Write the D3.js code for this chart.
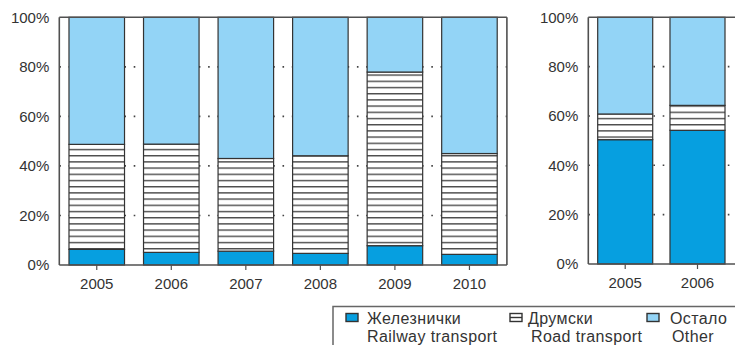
<!DOCTYPE html>
<html>
<head>
<meta charset="utf-8">
<script src="https://cdn.jsdelivr.net/npm/d3@7"></script>
<style>
  html, body { margin: 0; padding: 0; background: #fff; }
  svg { display: block; }
  text { font-family: "Liberation Sans", Arial, Helvetica, sans-serif; fill: #333; }
</style>
</head>
<body>
<svg id="chart" width="735" height="345"></svg>
<script>
// ---- data ----
const years = ["2005", "2006", "2007", "2008", "2009", "2010"];
const rail  = [6.3, 5.1, 5.6, 4.7, 7.8, 4.3];
const road  = [42.4, 43.7, 37.4, 39.4, 70.1, 40.7];
const other = [51.3, 51.2, 57.0, 55.9, 22.1, 55.0];

const years2 = ["2005", "2006"];
const rail2  = [50.4, 54.2];
const road2  = [10.4, 10.1];
const other2 = [39.2, 35.7];

const yTicks = [0, 20, 40, 60, 80, 100];
const gridTicks = [20, 40, 60, 80];
const seriesKeys = ["rail", "road", "other"];
const legendCyr = ["Железнички", "Друмски", "Остало"];
const legendEng = ["Railway transport", "Road transport", "Other"];

// ---- styles ----
const colors = { rail: "#069fe0", road: "url(#hatch)", other: "#93d4f6" };
const frameColor = "#505050";

const svg = d3.select("#chart");
const defs = svg.append("defs");
const pat = defs.append("pattern")
  .attr("id", "hatch").attr("patternUnits", "userSpaceOnUse")
  .attr("width", 10).attr("height", 6.2);
pat.append("rect").attr("width", 10).attr("height", 6.2).attr("fill", "#fff");
pat.append("rect").attr("y", 0).attr("width", 10).attr("height", 1.4).attr("fill", "#4a4a4a");

function panel(cfg) {
  const rows = cfg.cats.map((c, i) => ({ cat: c, rail: cfg.rail[i], road: cfg.road[i], other: cfg.other[i] }));
  const stack = d3.stack().keys(seriesKeys)(rows);
  const x = d3.scaleBand().domain(cfg.cats).range([cfg.x0, cfg.x1])
    .paddingInner(cfg.pIn).paddingOuter(cfg.pOut);
  const y = d3.scaleLinear().domain([0, 100]).range([cfg.yb, cfg.yt]);
  const g = svg.append("g");

  // dotted grid lines behind bars
  g.selectAll("line.grid").data(gridTicks).join("line")
    .attr("x1", cfg.x0).attr("x2", cfg.frameRight)
    .attr("y1", d => y(d)).attr("y2", d => y(d))
    .attr("stroke", "#444").attr("stroke-width", 1.6)
    .attr("stroke-dasharray", "1.6,7.7");

  // bars
  stack.forEach(s => {
    g.append("g").selectAll("rect").data(s).join("rect")
      .attr("x", d => x(d.data.cat))
      .attr("width", x.bandwidth())
      .attr("y", d => y(d[1]))
      .attr("height", d => y(d[0]) - y(d[1]))
      .attr("fill", colors[s.key])
      .attr("stroke", "#333").attr("stroke-width", 1.2);
  });

  // frame
  g.append("line").attr("x1", cfg.x0).attr("x2", cfg.x0).attr("y1", cfg.yt).attr("y2", cfg.yb)
    .attr("stroke", frameColor).attr("stroke-width", 1.6);
  g.append("line").attr("x1", cfg.x0).attr("x2", cfg.frameRight).attr("y1", cfg.yt).attr("y2", cfg.yt)
    .attr("stroke", frameColor).attr("stroke-width", 1.6);
  g.append("line").attr("x1", cfg.x0).attr("x2", cfg.frameRight).attr("y1", cfg.yb).attr("y2", cfg.yb)
    .attr("stroke", frameColor).attr("stroke-width", 1.6);
  if (cfg.closeRight) {
    g.append("line").attr("x1", cfg.frameRight).attr("x2", cfg.frameRight).attr("y1", cfg.yt).attr("y2", cfg.yb)
      .attr("stroke", frameColor).attr("stroke-width", 1.6);
  }

  // y axis labels
  const yAxis = d3.axisLeft(y).tickValues(yTicks).tickFormat(d => d + "%").tickSize(0).tickPadding(10);
  const ya = g.append("g").attr("transform", `translate(${cfg.x0},0)`).call(yAxis);
  ya.select(".domain").remove();
  ya.selectAll("text").attr("font-size", 15).attr("fill", "#333")
    .style("font-family", "'Liberation Sans', Arial, sans-serif");

  // x axis
  const xAxis = d3.axisBottom(x).tickSize(5).tickPadding(8);
  const xa = g.append("g").attr("transform", `translate(0,${cfg.yb})`).call(xAxis);
  xa.select(".domain").remove();
  xa.selectAll("line").attr("stroke", frameColor).attr("stroke-width", 1.2);
  xa.selectAll("text").attr("font-size", 15).attr("fill", "#333")
    .style("font-family", "'Liberation Sans', Arial, sans-serif");
}

panel({ cats: years, rail, road, other, x0: 59.3, x1: 506.9, frameRight: 506.9,
  pIn: 0.255, pOut: 0.13, yt: 17.3, yb: 265, closeRight: true });
panel({ cats: years2, rail: rail2, road: road2, other: other2, x0: 588.3, x1: 734.4, frameRight: 740,
  pIn: 0.239, pOut: 0.13, yt: 17.3, yb: 264, closeRight: false });

// ---- legend ----
const lg = svg.append("g");
lg.append("rect").attr("x", 333).attr("y", 306.5).attr("width", 420).attr("height", 60)
  .attr("fill", "#fff").attr("stroke", "#666").attr("stroke-width", 1.5);
const lx = [346, 510, 647];
const tx = [367, 528, 670];
const tx2 = [367, 531, 672];
seriesKeys.forEach((k, i) => {
  if (k === "road") {
    lg.append("rect").attr("x", lx[i]).attr("y", 313.5).attr("width", 12).attr("height", 8)
      .attr("fill", "#fff").attr("stroke", "#333").attr("stroke-width", 1.4);
    lg.append("line").attr("x1", lx[i]).attr("x2", lx[i] + 12).attr("y1", 317.5).attr("y2", 317.5)
      .attr("stroke", "#333").attr("stroke-width", 1.4);
  } else {
    lg.append("rect").attr("x", lx[i]).attr("y", 313.5).attr("width", 12).attr("height", 8)
      .attr("fill", colors[k]).attr("stroke", "#333").attr("stroke-width", 1.4);
  }
  lg.append("text").attr("x", tx[i]).attr("y", 323.5).attr("font-size", 16)
    .attr("letter-spacing", "0.4px").text(legendCyr[i]);
  lg.append("text").attr("x", tx2[i]).attr("y", 341.5).attr("font-size", 16)
    .attr("letter-spacing", "0.4px").text(legendEng[i]);
});
</script>
</body>
</html>
